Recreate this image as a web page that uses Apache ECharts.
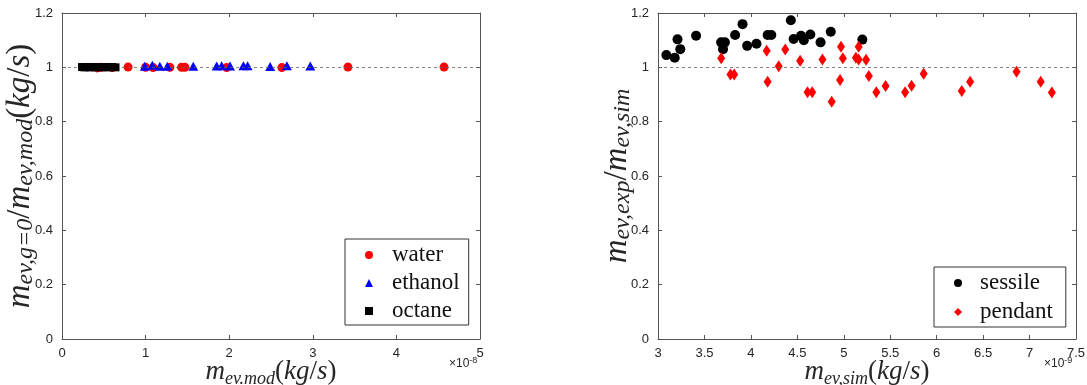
<!DOCTYPE html>
<html><head><meta charset="utf-8">
<script src="https://cdn.jsdelivr.net/npm/echarts@6/dist/echarts.min.js"></script>
<style>html,body{margin:0;padding:0;background:#fff}#c{width:1087px;height:385px}</style>
</head><body><div id="c"></div>
<script>
// Left panel (x in units of 1e-8 kg/s)
const waterX = [0.42, 0.47, 0.60, 0.79, 1.00, 1.09, 1.29, 1.43, 1.47, 1.97, 2.63, 3.42, 4.57];
const waterY = [0.998, 1.000, 0.999, 1.001, 1.000, 0.999, 1.000, 1.000, 1.000, 0.999, 0.999, 1.001, 1.001];
const ethanolX = [0.99, 1.08, 1.17, 1.26, 1.57, 1.85, 1.91, 2.01, 2.17, 2.22, 2.49, 2.69, 2.97];
const ethanolY = [1.004, 1.008, 1.004, 1.004, 1.004, 1.005, 1.006, 1.005, 1.006, 1.006, 1.003, 1.006, 1.005];
const octaneX = [0.24, 0.27, 0.30, 0.33, 0.36, 0.40, 0.44, 0.48, 0.52, 0.56, 0.60, 0.64];
const octaneY = [1.001, 1.000, 1.001, 1.000, 1.001, 1.000, 1.001, 1.000, 1.001, 1.000, 1.001, 1.000];
// Right panel (x in units of 1e-9 kg/s)
const sessileX = [3.09, 3.18, 3.21, 3.24, 3.41, 3.68, 3.72, 3.70, 3.83, 3.91, 3.96, 4.06, 4.18, 4.22, 4.43, 4.46, 4.54, 4.57, 4.64, 4.75, 4.86, 5.20];
const sessileY = [1.045, 1.035, 1.103, 1.067, 1.116, 1.092, 1.092, 1.067, 1.119, 1.159, 1.079, 1.087, 1.119, 1.119, 1.173, 1.104, 1.116, 1.100, 1.121, 1.092, 1.131, 1.102];
const pendantX = [3.68, 3.78, 3.82, 4.17, 4.18, 4.30, 4.37, 4.53, 4.61, 4.66, 4.77, 4.87, 4.96, 4.97, 4.99, 5.13, 5.16, 5.16, 5.24, 5.27, 5.35, 5.45, 5.66, 5.73, 5.86, 6.27, 6.36, 6.86, 7.12, 7.24];
const pendantY = [1.033, 0.974, 0.974, 1.061, 0.947, 1.004, 1.066, 1.024, 0.908, 0.908, 1.029, 0.873, 0.953, 1.076, 1.033, 1.035, 1.029, 1.076, 1.028, 0.968, 0.908, 0.931, 0.908, 0.932, 0.976, 0.913, 0.947, 0.984, 0.947, 0.907];
const leftXTicks = [0, 1, 2, 3, 4, 5];
const rightXTicks = [3, 3.5, 4, 4.5, 5, 5.5, 6, 6.5, 7, 7.5];
const yTicks = [0, 0.2, 0.4, 0.6, 0.8, 1, 1.2];

const zip = (a, b) => a.map((v, i) => [v, b[i]]);
const AX = '#555', TX = '#262626';
const serif = "'Liberation Serif', 'DejaVu Serif', serif";
const sans = "'Liberation Sans', Arial, sans-serif";
function mkRich(mainSize, subSize, lh) {
  return {
    m: {fontFamily: serif, fontStyle: 'italic', fontSize: mainSize, color: TX, lineHeight: lh},
    n: {fontFamily: serif, fontSize: mainSize, color: TX, lineHeight: lh},
    s: {fontFamily: serif, fontStyle: 'italic', fontSize: subSize, color: TX, lineHeight: 10, verticalAlign: 'bottom'}
  };
}
function xAx(grid, ticks, show, pos, name) {
  return {
    type: 'value', gridIndex: grid, min: ticks[0], max: ticks[ticks.length - 1],
    interval: ticks[1] - ticks[0], position: pos,
    axisLine: {show: true, onZero: false, lineStyle: {color: AX, width: 1}},
    axisTick: {show: true, inside: true, length: 4, lineStyle: {color: AX}},
    axisLabel: {show, color: TX, fontFamily: sans, fontSize: 13, margin: 8,
      formatter: v => String(v)},
    splitLine: {show: false},
    name: name || '', nameLocation: 'middle', nameGap: 17, nameMoveOverlap: false,
    nameTextStyle: {rich: mkRich(27, 18, 32)}
  };
}
function yAx(grid, show, pos, name, gap) {
  return {
    type: 'value', gridIndex: grid, min: yTicks[0], max: yTicks[yTicks.length - 1],
    interval: yTicks[1] - yTicks[0], position: pos,
    axisLine: {show: true, onZero: false, lineStyle: {color: AX, width: 1}},
    axisTick: {show: true, inside: true, length: 4, lineStyle: {color: AX}},
    axisLabel: {show, color: TX, fontFamily: sans, fontSize: 13, margin: 9,
      formatter: v => (Math.abs(v - 1) < 1e-9 || v === 0) ? String(Math.round(v)) : v.toFixed(1)},
    splitLine: {show: false},
    name: name || '', nameLocation: 'middle', nameGap: gap || 20, nameRotate: 90, nameMoveOverlap: false,
    nameTextStyle: {rich: mkRich(33, 24, 36)}
  };
}
const refLine = (xmin, xmax) => ({
  silent: true, symbol: 'none', label: {show: false},
  lineStyle: {type: [3, 3], color: '#666', width: 0.8},
  data: [[{coord: [xmin, 1]}, {coord: [xmax, 1]}]]
});
const legendText = (pl) => ({fontFamily: serif, fontSize: 23, color: '#111', lineHeight: 24, padding: [0, 0, 0, pl]});
const expRich = {a: {fontFamily: sans, fontSize: 12, fill: TX}, b: {fontFamily: sans, fontSize: 9, fill: TX, padding: [0, 0, 6, 0]}};

const chart = echarts.init(document.getElementById('c'), null, {renderer: 'canvas'});
chart.setOption({
  animation: false,
  backgroundColor: '#fff',
  grid: [
    {left: 62, right: 607, top: 13, bottom: 46, containLabel: false, outerBoundsMode: 'none'},
    {left: 658, right: 11, top: 13, bottom: 46, containLabel: false, outerBoundsMode: 'none'}
  ],
  xAxis: [
    xAx(0, leftXTicks, true, 'bottom', '{m|m}{s|ev.mod}{n|(}{m|kg}{n|/}{m|s}{n|)}'),
    xAx(0, leftXTicks, false, 'top'),
    xAx(1, rightXTicks, true, 'bottom', '{m|m}{s|ev,sim}{n|(}{m|kg}{n|/}{m|s}{n|)}'),
    xAx(1, rightXTicks, false, 'top')
  ],
  yAxis: [
    yAx(0, true, 'left', '{m|m}{s|ev,g=0}{n|/}{m|m}{s|ev,mod}{n|(}{m|kg}{n|/}{m|s}{n|)}', 24),
    yAx(0, false, 'right'),
    yAx(1, true, 'left', '{m|m}{s|ev,exp}{n|/}{m|m}{s|ev,sim}', 23),
    yAx(1, false, 'right')
  ],
  legend: [
    {data: ['water', 'ethanol', 'octane'], orient: 'vertical', left: 345, top: 239,
     padding: [4, 9, 2, 20], itemGap: 4, itemWidth: 8, itemHeight: 8,
     borderColor: '#333', borderWidth: 1, backgroundColor: '#fff', textStyle: legendText(14)},
    {data: ['sessile', 'pendant'], orient: 'vertical', left: 934, top: 267,
     padding: [4, 13, 3, 20], itemGap: 5, itemWidth: 8, itemHeight: 8,
     borderColor: '#333', borderWidth: 1, backgroundColor: '#fff', textStyle: legendText(13)}
  ],
  graphic: [
    {type: 'text', left: 449, top: 356, style: {rich: expRich, text: '{a|×10}{b|-8}'}},
    {type: 'text', left: 1044, top: 356, style: {rich: expRich, text: '{a|×10}{b|-9}'}}
  ],
  series: [
    {name: 'water', type: 'scatter', xAxisIndex: 0, yAxisIndex: 0, data: zip(waterX, waterY),
     symbol: 'circle', symbolSize: 9, itemStyle: {color: '#ff0000', opacity: 1}, z: 3,
     markLine: refLine(0, 5)},
    {name: 'ethanol', type: 'scatter', xAxisIndex: 0, yAxisIndex: 0, data: zip(ethanolX, ethanolY),
     symbol: 'triangle', symbolSize: [10, 9], itemStyle: {color: '#0000ff', opacity: 1}, z: 4},
    {name: 'octane', type: 'scatter', xAxisIndex: 0, yAxisIndex: 0, data: zip(octaneX, octaneY),
     symbol: 'rect', symbolSize: 8, itemStyle: {color: '#000', opacity: 1}, z: 5},
    {name: 'sessile', type: 'scatter', xAxisIndex: 2, yAxisIndex: 2, data: zip(sessileX, sessileY),
     symbol: 'circle', symbolSize: 10, itemStyle: {color: '#000', opacity: 1}, z: 3,
     markLine: refLine(3, 7.5)},
    {name: 'pendant', type: 'scatter', xAxisIndex: 2, yAxisIndex: 2, data: zip(pendantX, pendantY),
     symbol: 'diamond', symbolSize: [8, 12], itemStyle: {color: '#ff0000', opacity: 1}, z: 4}
  ]
});
</script></body></html>
